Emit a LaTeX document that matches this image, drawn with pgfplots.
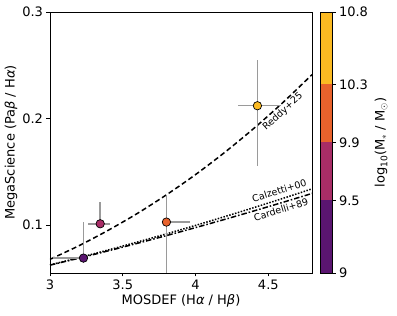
\documentclass[border=0pt]{standalone}
\usepackage{pgfplots}
\pgfplotsset{compat=1.18}
\usepackage{fontspec}
\setmainfont{DejaVu Sans}
\definecolor{cpurp}{HTML}{5A1570}
\definecolor{cmag}{HTML}{A82D66}
\definecolor{corg}{HTML}{E8622C}
\definecolor{cyel}{HTML}{FBBA22}
\definecolor{errgray}{HTML}{9A9A9A}
\begin{document}
\begin{tikzpicture}
\path (-50pt,-43pt) rectangle (347pt,273pt);
\begin{axis}[
  at={(0,0)}, anchor=south west,
  scale only axis, width=262pt, height=261pt,
  xmin=3, xmax=4.8, ymin=0.055, ymax=0.3,
  xtick={3,3.5,4,4.5}, ytick={0.1,0.2,0.3},
  xticklabels={3,3.5,4,4.5}, yticklabels={0.1,0.2,0.3},
  tick align=outside, major tick length=3.5pt,
  tick pos=left,
  axis line style={black, line width=0.8pt},
  tick style={black, line width=0.8pt},
  ticklabel style={font=\fontsize{13}{15}\selectfont},
  label style={font=\fontsize{13}{15}\selectfont},
  xlabel={MOSDEF (H{\itshape α} / H{\itshape β})},
  ylabel={MegaScience (Pa{\itshape β} / H{\itshape α})},
  xlabel style={yshift=2pt},
  ylabel style={yshift=-2pt},
  /pgf/number format/assume math mode=true,
]
% Reddy+25
\addplot[black, line width=1.5pt, dash pattern=on 5pt off 3pt, smooth] coordinates {
(3.0,0.0678) (3.2,0.0807) (3.4,0.0951) (3.6,0.1109) (3.8,0.1284) (4.0,0.1474) (4.2,0.1682) (4.4,0.1907) (4.6,0.2150) (4.8,0.2412)};
% Calzetti+00
\addplot[black, line width=1.5pt, dash pattern=on 1.5pt off 1.5pt, smooth] coordinates {
(3.0,0.06256) (3.2,0.06946) (3.4,0.07662) (3.6,0.08406) (3.8,0.09175) (4.0,0.09970) (4.2,0.10790) (4.4,0.11635) (4.6,0.12504) (4.8,0.13397)};
% Cardelli+89
\addplot[black, line width=1.5pt, dash pattern=on 5.5pt off 2pt on 1.5pt off 2pt, smooth] coordinates {
(3.0,0.06237) (3.2,0.06897) (3.4,0.07579) (3.6,0.08285) (3.8,0.09012) (4.0,0.09762) (4.2,0.10532) (4.4,0.11323) (4.6,0.12135) (4.8,0.12967)};
% error bars
\addplot[only marks, mark=none, draw=none, error bars/.cd, x dir=both, x explicit, y dir=both, y explicit,
  error bar style={errgray, line width=1.5pt}, error mark=none] coordinates {
(3.23,0.069) +- (0.002,0.034) -= (0.21,0.005)
(3.345,0.1012) +- (0.065,0.020) -= (0.085,0.002)
(3.80,0.1028) +- (0.16,0.025) -= (0.002,0.06)
(4.425,0.212) +- (0.162,0.043) -= (0.135,0.057)
};
\addplot[only marks, mark=*, mark size=4.2pt, mark options={fill=cpurp, draw=black, line width=0.7pt}] coordinates {(3.23,0.069)};
\addplot[only marks, mark=*, mark size=4.2pt, mark options={fill=cmag, draw=black, line width=0.7pt}] coordinates {(3.345,0.1012)};
\addplot[only marks, mark=*, mark size=4.2pt, mark options={fill=corg, draw=black, line width=0.7pt}] coordinates {(3.80,0.1028)};
\addplot[only marks, mark=*, mark size=4.2pt, mark options={fill=cyel, draw=black, line width=0.7pt}] coordinates {(4.425,0.212)};
\node[rotate=42, font=\fontsize{9.5}{11}\selectfont, inner sep=0pt] at (axis cs:4.60,0.2065) {Reddy+25};
\node[rotate=17, font=\fontsize{9.5}{11}\selectfont, inner sep=0pt] at (axis cs:4.575,0.1325) {Calzetti+00};
\node[rotate=17, font=\fontsize{9.5}{11}\selectfont, inner sep=0pt] at (axis cs:4.587,0.1145) {Cardelli+89};
\end{axis}
\begin{axis}[
  at={(270pt,0)}, anchor=south west,
  scale only axis, width=12pt, height=261pt,
  xmin=0, xmax=1, ymin=9, ymax=10.8,
  xtick=\empty, ytick={9,9.5,9.9,10.3,10.8},
  yticklabels={9,9.5,9.9,10.3,10.8},
  yticklabel pos=right, ytick pos=right,
  tick align=outside, major tick length=3.5pt,
  axis line style={black, line width=0.8pt},
  tick style={black, line width=0.8pt},
  ticklabel style={font=\fontsize{13}{15}\selectfont},
  ylabel={log\textsubscript{10}(M\textsubscript{$*$} / M\textsubscript{$\odot$})},
  ylabel near ticks,
  label style={font=\fontsize{13}{15}\selectfont},
  axis on top,
  /pgf/number format/assume math mode=true,
]
\addplot[fill=cpurp, draw=none] coordinates {(0,9) (1,9) (1,9.5) (0,9.5)} -- cycle;
\addplot[fill=cmag, draw=none] coordinates {(0,9.5) (1,9.5) (1,9.9) (0,9.9)} -- cycle;
\addplot[fill=corg, draw=none] coordinates {(0,9.9) (1,9.9) (1,10.3) (0,10.3)} -- cycle;
\addplot[fill=cyel, draw=none] coordinates {(0,10.3) (1,10.3) (1,10.8) (0,10.8)} -- cycle;
\end{axis}
\end{tikzpicture}
\end{document}
